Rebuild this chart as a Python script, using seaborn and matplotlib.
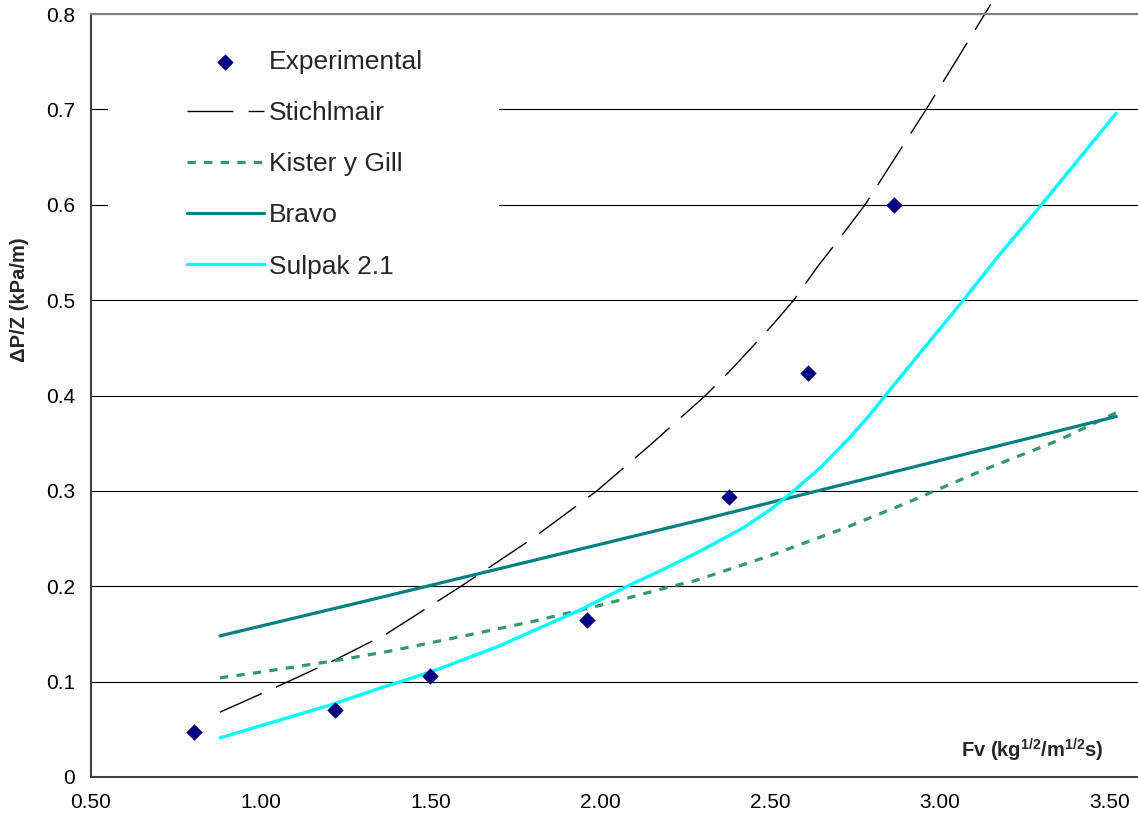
import numpy as np
import pandas as pd
import matplotlib
matplotlib.use("Agg")
import matplotlib.pyplot as plt
import seaborn as sns
from matplotlib.patches import Rectangle

# ---- data ----
exp_fv = [0.803, 1.219, 1.499, 1.962, 2.379, 2.611, 2.866]
exp_dp = [0.047, 0.070, 0.106, 0.165, 0.294, 0.424, 0.600]

stich_fv = [0.88, 1.05, 1.22, 1.37, 1.59, 1.80, 1.99, 2.15, 2.31, 2.38, 2.44, 2.51, 2.57, 2.64, 2.71, 2.78, 2.87, 2.96, 3.05, 3.15]
stich_dp = [0.068, 0.095, 0.123, 0.150, 0.200, 0.250, 0.300, 0.349, 0.400, 0.425, 0.448, 0.475, 0.500, 0.535, 0.567, 0.600, 0.650, 0.700, 0.752, 0.810]

kister_fv = [0.88, 1.00, 1.22, 1.38, 1.60, 1.80, 2.00, 2.19, 2.28, 2.50, 2.72, 2.90, 3.07, 3.15, 3.35, 3.52]
kister_dp = [0.104, 0.110, 0.122, 0.132, 0.148, 0.163, 0.180, 0.198, 0.206, 0.232, 0.261, 0.287, 0.313, 0.325, 0.353, 0.382]

bravo_fv = [0.88, 1.35, 2.29, 3.52]
bravo_dp = [0.148, 0.188, 0.269, 0.378]

sulpak_fv = [0.88, 1.21, 1.35, 1.50, 1.70, 1.94, 2.08, 2.17, 2.29, 2.42, 2.50, 2.57, 2.65, 2.73, 2.79, 2.84, 2.95, 3.07, 3.17, 3.30, 3.41, 3.52]
sulpak_dp = [0.041, 0.076, 0.093, 0.110, 0.137, 0.175, 0.200, 0.215, 0.236, 0.261, 0.280, 0.300, 0.325, 0.354, 0.378, 0.400, 0.448, 0.500, 0.545, 0.600, 0.648, 0.696]

xticks = [0.5, 1.0, 1.5, 2.0, 2.5, 3.0, 3.5]
yticks = [0, 0.1, 0.2, 0.3, 0.4, 0.5, 0.6, 0.7, 0.8]
ytick_labels = ["0", "0.1", "0.2", "0.3", "0.4", "0.5", "0.6", "0.7", "0.8"]

sns.set_theme(style="white")
plt.rcParams['font.family'] = ['Liberation Sans', 'DejaVu Sans']
plt.rcParams['mathtext.fontset'] = 'custom'
plt.rcParams['mathtext.rm'] = 'Liberation Sans'
plt.rcParams['mathtext.bf'] = 'Liberation Sans:bold'

fig = plt.figure(figsize=(11.38, 8.23), dpi=100)
ax = fig.add_axes([91/1138, 46/823, 1047/1138, 763/823])

df_exp = pd.DataFrame({"Fv": exp_fv, "dP": exp_dp})
sns.scatterplot(data=df_exp, x="Fv", y="dP", ax=ax, marker="D", s=70,
                color="#000080", edgecolor="#000080", linewidth=0,
                label="Experimental", zorder=5)

def curve(xs, ys, label, **kw):
    d = pd.DataFrame({"Fv": xs, "dP": ys})
    sns.lineplot(data=d, x="Fv", y="dP", ax=ax, sort=False, estimator=None,
                 label=label, **kw)
    return ax.lines[-1]

l1 = curve(stich_fv, stich_dp, "Stichlmair", color="black", linewidth=1.0)
l1.set_dashes((33, 11))
l1.set_clip_on(False)
l2 = curve(kister_fv, kister_dp, "Kister y Gill", color="#339966", linewidth=2.3)
l2.set_dashes((2.6, 2.6))
curve(bravo_fv, bravo_dp, "Bravo", color="#008080", linewidth=2.3)
curve(sulpak_fv, sulpak_dp, "Sulpak 2.1", color="#00FFFF", linewidth=2.4)

ax.set_xlim(0.5, 3.584)
ax.set_ylim(0, 0.8)
ax.set_xticks(xticks)
ax.set_xticklabels([f"{v:.2f}" for v in xticks])
ax.set_yticks(yticks)
ax.set_yticklabels(ytick_labels)
ax.tick_params(axis='both', labelsize=15, colors='black', direction='out',
               length=4.5, width=1, pad=7)
ax.tick_params(axis='both', color='#404040')

ax.yaxis.grid(True, color='black', linewidth=0.8)
ax.xaxis.grid(False)
ax.set_axisbelow(True)

for s in ['left', 'bottom']:
    ax.spines[s].set_color('#404040')
    ax.spines[s].set_linewidth(1.5)
ax.spines['right'].set_visible(False)
ax.spines['top'].set_color('#808080')
ax.spines['top'].set_linewidth(1.5)

# legend background box
ax.add_patch(Rectangle((0.016, 0.64), 0.374, 0.35, transform=ax.transAxes,
                       facecolor='white', edgecolor='none', zorder=1))

leg = ax.legend(loc='upper left', bbox_to_anchor=(0.0917, 0.953), frameon=False,
                fontsize=19, handlelength=2.9, handletextpad=0.2,
                labelspacing=1.03, borderpad=0, borderaxespad=0)

ax.set_xlabel("")
ax.set_ylabel("")
fig.text(20/1138, 1 - 300/823, "ΔP/Z (kPa/m)", rotation=90, fontsize=14.5,
         fontweight='bold', ha='center', va='center')
ax.text(0.9666, 0.035, r"Fv (kg$^{\mathbf{1/2}}$/m$^{\mathbf{1/2}}$s)",
        transform=ax.transAxes, ha='right', va='center', fontsize=14.5,
        fontweight='bold')

fig.savefig("out.png", dpi=100)
